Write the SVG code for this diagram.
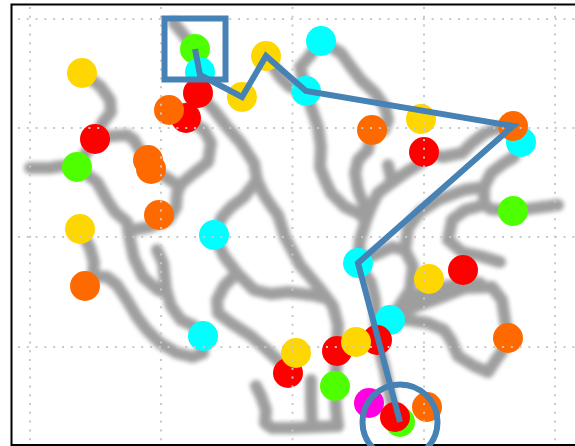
<svg xmlns="http://www.w3.org/2000/svg" width="575" height="446" viewBox="0 0 575 446">
<defs>
<filter id="blur" x="-10%" y="-10%" width="120%" height="120%"><feGaussianBlur stdDeviation="2"/></filter>
<style>
.trail{fill:none;stroke:#7a7a7a;stroke-width:12;stroke-linecap:round;stroke-linejoin:round}
.grid{stroke:#c8c8c8;stroke-width:2;stroke-dasharray:2 6.8;fill:none}
.y{fill:#FFD700}.r{fill:#FF0000}.g{fill:#4EFF00}.o{fill:#FF6A00}.c{fill:#00FFFF}.m{fill:#FF00E0}
.route{fill:none;stroke:#4682B4;stroke-width:6}
</style>
</defs>
<rect width="575" height="446" fill="#fff"/>
<g id="trails" opacity="0.72" filter="url(#blur)">
<polyline class="trail" points="82,73 100,86 110,100 111,112 103,122 95,139"/>
<polyline class="trail" points="95,139 112,136 127,135 134,140 141,152 148,160 151,169 167,178 179,186"/>
<polyline class="trail" points="95,139 77,167"/>
<polyline class="trail" points="30,168 50,168 62,166 77,167 97,182 107,200 115,212 127,222 130,240 134,258 143,277 158,290 167,293"/>
<polyline class="trail" points="174,23 195,49 200,72 198,93 186,118"/>
<polyline class="trail" points="186,118 204,130 211,143 208,162 194,173 181,184 177,193 176,207 168,220 150,227 132,230"/>
<polyline class="trail" points="198,93 214,110 227,127 241,143 254,163 257,180 264,195 272,207 278,215 285,237 300,265 321,290 333,306 338,325 337,351 335,386 336,410 338,426"/>
<polyline class="trail" points="257,180 244,197 231,207 222,217 214,235"/>
<polyline class="trail" points="214,235 224,256 237,273 254,290 271,294 288,292 312,295 325,298"/>
<polyline class="trail" points="237,273 224,286 217,300 218,313 231,323 251,336 267,350 281,363 288,373"/>
<polyline class="trail" points="157,250 163,263 166,290 171,306 181,320 194,326 203,336"/>
<polyline class="trail" points="80,229 90,248 94,262 93,276 85,286"/>
<polyline class="trail" points="93,276 107,277 117,285 127,300 137,317 147,330 160,343 177,353 193,357 203,353 203,336"/>
<polyline class="trail" points="256,386 261,396 266,410 265,423 272,428 290,428 315,427 338,426"/>
<polyline class="trail" points="311,380 311,400 312,426"/>
<polyline class="trail" points="266,56 280,77 290,87 306,91"/>
<polyline class="trail" points="306,91 300,67 308,58 321,41"/>
<polyline class="trail" points="321,41 341,53 351,67 361,80 375,93 385,107 388,120 384,130 372,130"/>
<polyline class="trail" points="372,130 368,150 358,160 355,173 358,190 365,207 366,220 360,240 358,263"/>
<polyline class="trail" points="306,91 311,107 318,127 321,147 320,167 325,180 331,193 345,207 358,213 366,220"/>
<polyline class="trail" points="424,152 421,163 405,173 391,183 378,193 371,207 366,220"/>
<polyline class="trail" points="388,165 392,182"/>
<polyline class="trail" points="424,152 442,157 462,153 472,143 485,133 498,128 513,126"/>
<polyline class="trail" points="521,142 514,157 504,163 491,173 484,187 484,203 490,209 513,211 535,208 558,205"/>
<polyline class="trail" points="484,187 464,190 438,200 420,212 408,228 405,250"/>
<polyline class="trail" points="358,263 372,256 392,247 405,250 413,266 410,290 400,305 390,320"/>
<polyline class="trail" points="484,205 465,210 452,220 448,240 462,252 480,256 500,262"/>
<polyline class="trail" points="398,317 412,308 442,297 465,288 492,287 502,300 505,320 508,338"/>
<polyline class="trail" points="405,300 429,290 465,282 480,283"/>
<polyline class="trail" points="508,338 503,350 496,360 488,372 474,366 458,356 451,340 444,330 428,323 408,320 390,320"/>
<polyline class="trail" points="390,320 377,340 385,370 390,395 395,417"/>
<polyline class="trail" points="358,263 371,283 375,300 377,340"/>
</g>
<g id="points">
<circle class="y" cx="82" cy="73" r="15"/>
<circle class="r" cx="95" cy="139" r="15"/>
<circle class="g" cx="77" cy="167" r="15"/>
<circle class="o" cx="148" cy="160" r="15"/>
<circle class="o" cx="151" cy="169" r="15"/>
<circle class="o" cx="159" cy="215" r="15"/>
<circle class="y" cx="80" cy="229" r="15"/>
<circle class="o" cx="85" cy="286" r="15"/>
<circle class="g" cx="195" cy="49" r="15"/>
<circle class="c" cx="200" cy="72" r="15"/>
<circle class="r" cx="198" cy="93" r="15"/>
<circle class="r" cx="186" cy="118" r="15"/>
<circle class="o" cx="169" cy="110" r="15"/>
<circle class="y" cx="242" cy="97" r="15"/>
<circle class="y" cx="266" cy="56" r="15"/>
<circle class="c" cx="321" cy="41" r="15"/>
<circle class="c" cx="306" cy="91" r="15"/>
<circle class="o" cx="372" cy="130" r="15"/>
<circle class="y" cx="421" cy="119" r="15"/>
<circle class="r" cx="424" cy="152" r="15"/>
<circle class="c" cx="521" cy="142" r="15"/>
<circle class="o" cx="513" cy="126" r="15"/>
<circle class="g" cx="513" cy="211" r="15"/>
<circle class="c" cx="214" cy="235" r="15"/>
<circle class="c" cx="203" cy="336" r="15"/>
<circle class="c" cx="358" cy="263" r="15"/>
<circle class="y" cx="429" cy="279" r="15"/>
<circle class="r" cx="463" cy="270" r="15"/>
<circle class="c" cx="390" cy="320" r="15"/>
<circle class="r" cx="377" cy="340" r="15"/>
<circle class="r" cx="337" cy="351" r="15"/>
<circle class="y" cx="356" cy="342" r="15"/>
<circle class="r" cx="288" cy="373" r="15"/>
<circle class="y" cx="296" cy="353" r="15"/>
<circle class="g" cx="335" cy="386" r="15"/>
<circle class="o" cx="508" cy="338" r="15"/>
<circle class="m" cx="369" cy="403" r="15"/>
<circle class="g" cx="400" cy="422" r="15"/>
<circle class="r" cx="395" cy="417" r="15"/>
<circle class="o" cx="427" cy="407" r="15"/>
</g>
<g id="grid">
<line class="grid" x1="30" y1="7" x2="30" y2="444"/>
<line class="grid" x1="161" y1="7" x2="161" y2="444"/>
<line class="grid" x1="292.5" y1="7" x2="292.5" y2="444"/>
<line class="grid" x1="424" y1="7" x2="424" y2="444"/>
<line class="grid" x1="555" y1="7" x2="555" y2="444"/>
<line class="grid" x1="18" y1="19" x2="575" y2="19"/>
<line class="grid" x1="18" y1="128" x2="575" y2="128"/>
<line class="grid" x1="18" y1="237" x2="575" y2="237"/>
<line class="grid" x1="18" y1="347" x2="575" y2="347"/>
</g>
<g id="frame" fill="none" stroke="#000" stroke-width="2">
<polyline points="576,4.5 11.5,4.5 11.5,445 576,445"/>
</g>
<g id="connectors">
<polyline class="route" points="195,49 200,75 242,97 266,56 306,91 513,126 358,263 400,422"/>
</g>
<g id="start"><rect class="route" x="164.5" y="18.5" width="61" height="61"/></g>
<g id="end"><circle class="route" cx="400" cy="422" r="37.5"/></g>
</svg>
